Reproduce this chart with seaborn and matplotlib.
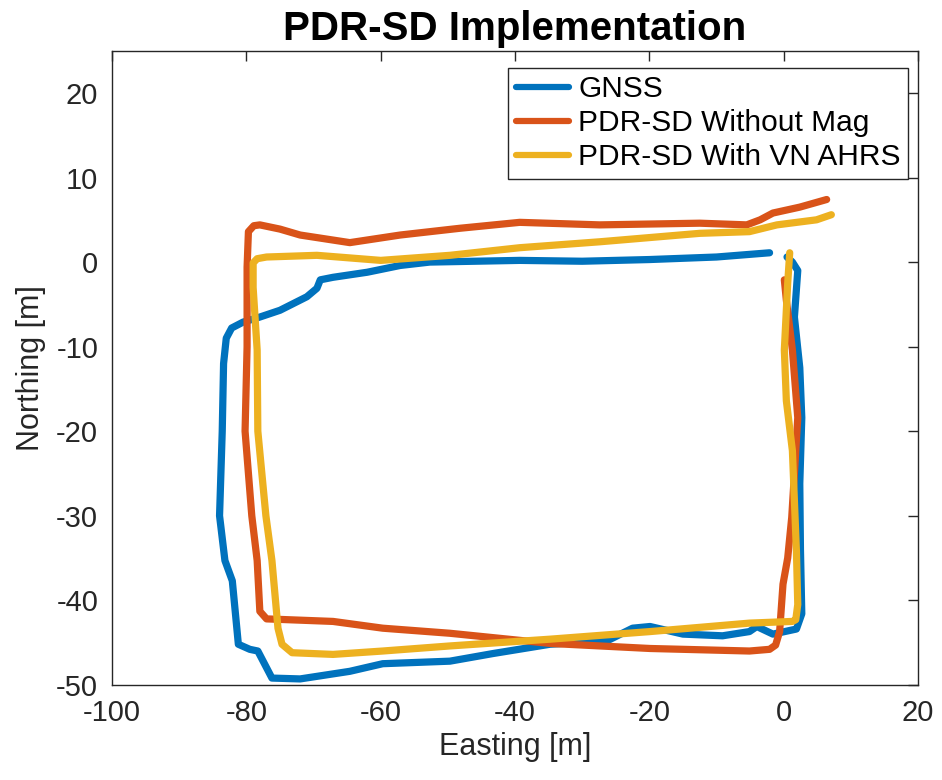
import numpy as np
import pandas as pd
import matplotlib
matplotlib.use("Agg")
import matplotlib.pyplot as plt
import seaborn as sns

# GNSS track (east, north) in metres
gnss_e = [0.5, 1.3, 2.1, 1.6, 2.4, 2.7, 2.4, 2.5, 2.7, 1.9, -1.6, -4.0, -5.1, -9.1,
          -15.0, -19.9, -22.5, -26.3, -34.8, -43.3, -49.7, -59.7, -64.6, -72.0, -76.2,
          -78.3, -79.5, -81.2, -82.1, -83.2, -84.0, -83.6, -83.4, -83.0, -82.2, -80.5,
          -78.0, -75.0, -71.0, -69.5, -69.0, -67.1, -62.0, -57.1, -52.7, -39.3, -30.0,
          -20.0, -10.0, -2.1]
gnss_n = [0.6, 0.0, -1.0, -6.5, -12.5, -18.4, -26.2, -34.0, -41.6, -43.4, -44.0, -43.1,
          -43.7, -44.2, -44.0, -43.1, -43.3, -44.8, -45.2, -46.3, -47.2, -47.5, -48.4,
          -49.3, -49.2, -46.0, -45.8, -45.2, -37.7, -35.3, -30.0, -20.0, -12.0, -9.0,
          -7.8, -7.1, -6.5, -5.7, -4.1, -3.1, -2.1, -1.8, -1.2, -0.4, 0.0, 0.2, 0.1,
          0.3, 0.6, 1.1]

# PDR-SD without magnetometer
nomag_e = [0.1, 0.4, 1.3, 2.1, 1.6, 1.2, 0.6, -0.1, -0.6, -1.2, -2.1, -5.1, -19.9,
           -34.8, -49.7, -59.7, -67.1, -77.0, -78.0, -78.4, -79.2, -80.2, -79.9, -79.9,
           -79.7, -78.9, -78.0, -75.0, -72.0, -64.6, -57.1, -48.2, -39.3, -27.4, -12.5,
           -5.5, -3.5, -1.6, 2.4, 6.4]
nomag_n = [-2.1, -4.5, -10.4, -18.4, -25.0, -30.2, -35.0, -38.1, -43.7, -45.3, -45.8,
           -46.0, -45.7, -45.1, -43.9, -43.3, -42.5, -42.2, -41.3, -35.3, -30.0, -20.0,
           -10.0, -0.6, 3.6, 4.3, 4.4, 3.9, 3.2, 2.3, 3.2, 4.0, 4.7, 4.4, 4.6, 4.4, 5.0,
           5.8, 6.5, 7.4]

# PDR-SD with VN AHRS heading
ahrs_e = [0.9, 0.6, 0.1, 0.4, 1.3, 1.9, 2.1, 1.8, 1.3, -5.1, -19.9, -34.8, -49.7,
          -59.7, -67.1, -73.2, -74.7, -75.3, -76.2, -77.1, -78.3, -78.4, -79.0, -79.0,
          -78.4, -77.0, -69.5, -60.0, -49.7, -39.3, -27.4, -12.5, -5.1, -1.0, 4.9, 7.1]
ahrs_n = [1.1, -2.5, -10.4, -16.4, -22.3, -34.2, -40.5, -42.3, -42.5, -42.7, -43.7,
          -44.6, -45.4, -46.0, -46.4, -46.2, -45.2, -43.3, -35.3, -30.0, -20.0, -10.4,
          -3.0, -0.1, 0.4, 0.6, 0.8, 0.2, 0.8, 1.7, 2.4, 3.4, 3.6, 4.4, 5.0, 5.6]

labels = ["GNSS", "PDR-SD Without Mag", "PDR-SD With VN AHRS"]
colors = ["#0072BD", "#D95319", "#EDB120"]

sns.set_style("white")
plt.rcParams["font.family"] = ["Liberation Sans", "DejaVu Sans"]
plt.rcParams["axes.unicode_minus"] = False

frames = []
for lab, e, n in [(labels[0], gnss_e, gnss_n),
                  (labels[1], nomag_e, nomag_n),
                  (labels[2], ahrs_e, ahrs_n)]:
    d = pd.DataFrame({"Easting": e, "Northing": n})
    d["Source"] = lab
    frames.append(d)
df = pd.concat(frames, ignore_index=True)

fig = plt.figure(figsize=(9.42, 7.8), dpi=100)
ax = fig.add_axes([0.119, 0.122, 0.8555, 0.813])

sns.lineplot(data=df, x="Easting", y="Northing", hue="Source", hue_order=labels,
             palette=colors, sort=False, estimator=None, units="Source",
             linewidth=5.2, ax=ax)

ax.set_xlim(-100, 20)
ax.set_ylim(-50, 25)
ax.set_xticks(range(-100, 21, 20))
ax.set_yticks(range(-50, 21, 10))
ax.tick_params(direction="in", length=7, width=1, labelsize=21, colors="#262626",
               top=True, right=True, labeltop=False, labelright=False, pad=10)
for s in ax.spines.values():
    s.set_color("#262626")
    s.set_linewidth(1)
ax.set_xlabel("Easting [m]", fontsize=22, color="#262626", labelpad=4)
ax.set_ylabel("Northing [m]", fontsize=22, color="#262626", labelpad=7)
ax.set_title("PDR-SD Implementation", fontsize=29, fontweight="bold",
             color="black", pad=8)

leg = ax.legend(loc="upper right", fontsize=21.5, frameon=True, fancybox=False,
                edgecolor="#262626", handlelength=1.8, borderaxespad=0.0,
                bbox_to_anchor=(0.988, 0.973), labelspacing=0.2, handletextpad=0.3,
                borderpad=0.25, framealpha=1)
leg.get_frame().set_linewidth(1)
for line in leg.get_lines():
    line.set_linewidth(4.5)
for t in leg.get_texts():
    t.set_color("black")

fig.savefig("out.png", dpi=100)
